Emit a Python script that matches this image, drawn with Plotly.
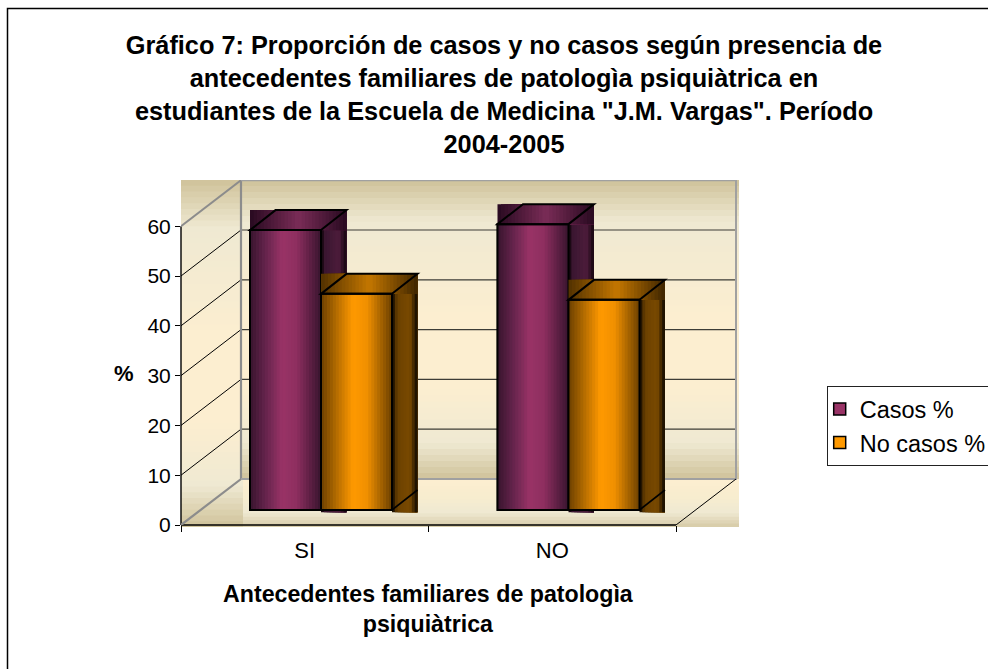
import plotly.graph_objects as go

# ---------- data ----------
categories = ["SI", "NO"]
series_names = ["Casos %", "No casos %"]
casos = [56.2, 57.4]
no_casos = [43.4, 42.2]
y_ticks = [0, 10, 20, 30, 40, 50, 60]
title_lines = ["Gráfico 7: Proporción de casos y no casos según presencia de",
               "antecedentes familiares de patologìa psiquiàtrica en",
               "estudiantes de la Escuela de Medicina \"J.M. Vargas\". Período",
               "2004-2005"]
xtitle_lines = ["Antecedentes familiares de patologìa", "psiquiàtrica"]

# ---------- geometry ----------
W, H = 988, 669
L, R, T, B = 181, 740, 180, 525      # plot rectangle in page pixels
UX = 247.5                            # pixels per category
UY = 4.98                             # pixels per percent unit
XMAX = (R - L) / UX
YMAX = (B - T) / UY
WALL_DX, WALL_DY = 60 / UX, 46 / UY   # depth of the whole 3-D box
BAR_X0 = 19.5 / UX                    # front of bars: offset from front of box
BAR_Y0 = 15 / UY
BAR_DX, BAR_DY = 25.5 / UX, 20 / UY   # depth of a bar
GAP = 49.5 / UX                       # left gap inside a category
BW = 71 / UX                          # bar width


def paper_x(px):
    return (px - L) / (R - L)


def paper_y(py):
    return (B - py) / (B - T)


def lerp_colors(stops, t):
    for (t0, c0), (t1, c1) in zip(stops, stops[1:]):
        if t <= t1:
            f = (t - t0) / (t1 - t0) if t1 > t0 else 0
            rgb = [round(a + (b - a) * f) for a, b in zip(c0, c1)]
            return "rgb(%d,%d,%d)" % tuple(rgb)
    return "rgb(%d,%d,%d)" % tuple(stops[-1][1])


def hx(s):
    return tuple(int(s[i:i + 2], 16) for i in (1, 3, 5))


def ramp(*pairs):
    return [(t, hx(c)) for t, c in pairs]


WALL = ramp((0, "#CFC29A"), (0.14, "#EFE9D2"), (0.45, "#FCEED0"), (0.7, "#FCEED0"), (0.88, "#EFE9D2"), (1, "#CFC29A"))
FLOOR = ramp((0, "#FCEED0"), (0.35, "#F8EDCF"), (0.7, "#EFE9D2"), (1, "#D6CAA6"))

STYLES = {
    0: dict(front=ramp((0, "#38142E"), (0.25, "#6B2650"), (0.45, "#993366"), (0.65, "#8F2F60"), (1, "#38142E")),
            top=ramp((0, "#280A20"), (0.5, "#7A2C57"), (1, "#280A20")),
            side=ramp((0, "#080204"), (0.15, "#3A1630"), (0.7, "#4D1C3B"), (1, "#14050E")),
            flat="#993366"),
    1: dict(front=ramp((0, "#6B4000"), (0.25, "#BE7200"), (0.45, "#FF9900"), (0.65, "#F09000"), (1, "#6B4000")),
            top=ramp((0, "#523100"), (0.5, "#C47700"), (1, "#3E2500")),
            side=ramp((0, "#080400"), (0.2, "#6B4000"), (0.7, "#7A4A00"), (1, "#0C0600")),
            flat="#FF9900"),
}

shapes = []


def hstrips(x0, x1, y0, y1, stops, n, layer="above"):
    """Horizontal colour ramp; each strip runs on to x1 so no seams show."""
    for i in range(n):
        shapes.append(dict(type="rect", xref="x", yref="y", layer=layer,
                           x0=x0 + (x1 - x0) * i / n, x1=x1, y0=y0, y1=y1,
                           fillcolor=lerp_colors(stops, (i + .5) / n), line_width=0))


def path(points, color="black", width=2, layer="above", close=True):
    d = "M" + "L".join(f"{x:.5f},{y:.5f}" for x, y in points) + ("Z" if close else "")
    shapes.append(dict(type="path", xref="x", yref="y", layer=layer, path=d,
                       line=dict(color=color, width=width), fillcolor="rgba(0,0,0,0)"))


# ---------- walls and floor: vertical ramps ----------
def wall_ramp(x0, x1, y_top, y_bot, stops, n):
    for i in range(n):
        ya = y_top + (y_bot - y_top) * i / n
        shapes.append(dict(type="rect", xref="x", yref="paper", layer="below",
                           x0=x0, x1=x1, y0=paper_y(y_bot), y1=paper_y(ya),
                           fillcolor=lerp_colors(stops, (i + .5) / n), line_width=0))


wall_ramp(0, WALL_DX + 2.5 / UX, 180, 527, WALL, 60)
wall_ramp(WALL_DX, XMAX - 1 / UX, 180, 479, WALL, 50)
wall_ramp(WALL_DX + 2 / UX, XMAX - 1 / UX, 479, 527, FLOOR, 14)

# ---------- grid lines ----------
GRID = "#3c3c36"
for v in y_ticks[1:-1]:
    path([(WALL_DX, v + WALL_DY), (2 + WALL_DX, v + WALL_DY)], GRID, 1.2, "below", False)
for v in y_ticks[1:]:
    path([(0, v), (WALL_DX, v + WALL_DY)], "black" if v < 60 else "#8c8c8c", 1 if v < 60 else 2, "below", False)

WALLC = "#8c8c8c"
path([(0, 0), (WALL_DX, WALL_DY), (WALL_DX, YMAX - .05)], WALLC, 2.2, "below", False)
path([(WALL_DX, YMAX - .05), (2 + WALL_DX, YMAX - .05), (2 + WALL_DX, WALL_DY), (WALL_DX, WALL_DY)], "#a0a0a0", 2, "below", False)
path([(2, 0), (2 + WALL_DX, WALL_DY)], "black", 1, "below", False)

# axis lines, stopped at the top tick
shapes.append(dict(type="line", xref="paper", yref="y", layer="below", x0=0, x1=0, y0=0, y1=60,
                   line=dict(color="black", width=1.4)))
shapes.append(dict(type="line", xref="x", yref="paper", layer="below", x0=0, x1=2, y0=0, y1=0,
                   line=dict(color="black", width=1.6)))

# ---------- 3-D faces, painted in order ----------
for c in range(len(categories)):
    for s, values in enumerate([casos, no_casos]):
        st = STYLES[s]
        v = values[c]
        xl = c + BAR_X0 + GAP + s * BW
        xr = xl + BW
        yb = BAR_Y0
        yt = BAR_Y0 + v
        hstrips(xl, xr, yb, yt, st["front"], 24)
        hstrips(xr, xr + BAR_DX, yb - .45, yt, st["side"], 9)
        hstrips(xl, xr + BAR_DX, yt, yt + BAR_DY, st["top"], 28)
        path([(xl, yb), (xr, yb), (xr, yt), (xl, yt)])
        path([(xl, yt), (xl + BAR_DX, yt + BAR_DY), (xr + BAR_DX, yt + BAR_DY), (xr, yt)])
        path([(xr, yb), (xr + BAR_DX, yb + BAR_DY)], "black", 1.6, close=False)

# page border: left and top only, it runs off the page on the other sides
shapes.append(dict(type="path", xref="paper", yref="paper", layer="above",
                   path=f"M{paper_x(7.5)},{paper_y(H + 5)}L{paper_x(7.5)},{paper_y(8.5)}L{paper_x(W + 5)},{paper_y(8.5)}",
                   line=dict(color="black", width=1.5)))

# ---------- traces ----------
fig = go.Figure()
for s, (name, values) in enumerate(zip(series_names, [casos, no_casos])):
    fig.add_trace(go.Bar(
        name=name, legendgroup=name,
        x=[c + BAR_X0 + GAP + s * BW + BW / 2 for c in range(len(categories))],
        y=values, base=BAR_Y0, width=BW,
        marker=dict(color=STYLES[s]["flat"], line=dict(color="black", width=1.5)),
    ))

FONT = "Liberation Sans"
annotations = [
    dict(text="<br>".join(xtitle_lines), xref="paper", yref="paper", x=paper_x(428), y=paper_y(579),
         xanchor="center", yanchor="top", showarrow=False, align="center",
         font=dict(family=FONT, size=23.2, color="black", weight="bold")),
    dict(text="%", xref="paper", yref="paper", x=paper_x(124), y=paper_y(373),
         xanchor="center", yanchor="middle", showarrow=False,
         font=dict(family=FONT, size=22, color="black", weight="bold")),
]

fig.update_layout(
    width=W, height=H,
    margin=dict(l=L, r=W - R, t=T, b=H - B, pad=0, autoexpand=False),
    paper_bgcolor="white", plot_bgcolor="rgba(0,0,0,0)",
    barmode="overlay", showlegend=True,
    title=dict(text="<br>".join(title_lines), x=504 / W, xanchor="center", xref="container",
               y=1 - 54 / H, yanchor="top",
               font=dict(family=FONT, size=25.3, color="black", weight="bold")),
    xaxis=dict(range=[0, XMAX], tickmode="array", tickvals=[c + .5 for c in range(len(categories))],
               ticktext=categories, ticks="", showgrid=False, zeroline=False, showline=False,
               ticklabelstandoff=10,
               tickfont=dict(family=FONT, size=22, color="black"),
               minor=dict(tickmode="array", tickvals=list(range(len(categories) + 1)), ticks="outside",
                          ticklen=6, tickwidth=1, tickcolor="black", showgrid=False)),
    yaxis=dict(range=[0, YMAX], tickmode="array", tickvals=y_ticks, ticks="outside", ticklen=5,
               tickcolor="black", showgrid=False, zeroline=False, showline=False,
               tickfont=dict(family=FONT, size=21, color="black")),
    legend=dict(x=paper_x(826.5), y=paper_y(386), xanchor="left", yanchor="top",
                bgcolor="white", bordercolor="#222222", borderwidth=1.2, indentation=-8,
                font=dict(family=FONT, size=23.5, color="black"),
                traceorder="normal", tracegroupgap=8),
    shapes=shapes, annotations=annotations,
)

fig.write_html("out.html", config=dict(displayModeBar=False),
               post_script="document.body.style.margin='0';document.documentElement.style.overflow='hidden';")
